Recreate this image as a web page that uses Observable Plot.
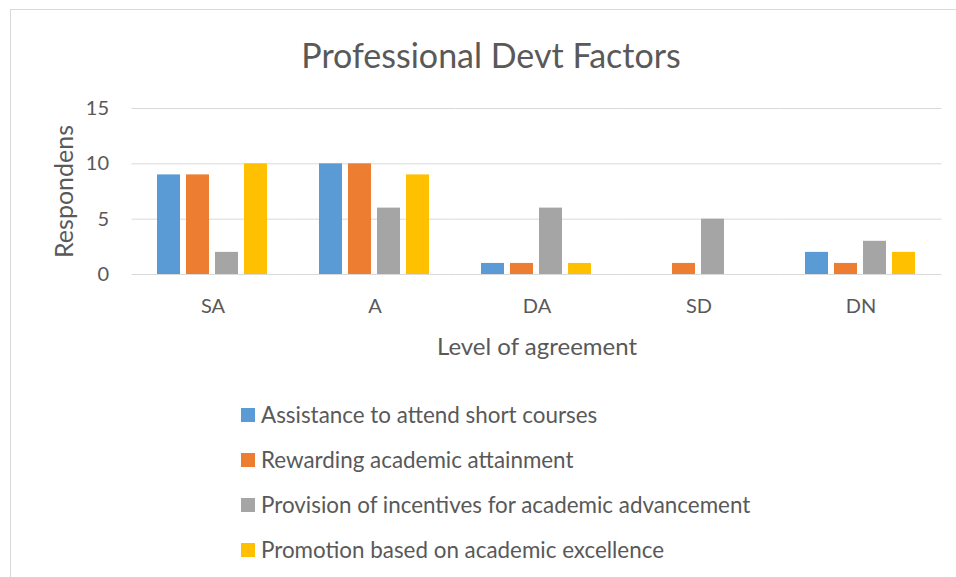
<!DOCTYPE html>
<html>
<head>
<meta charset="utf-8">
<script src="https://cdn.jsdelivr.net/npm/d3@7"></script>
<script src="https://cdn.jsdelivr.net/npm/@observablehq/plot@0.6"></script>
<style>
  html, body { margin: 0; padding: 0; background: #fff; overflow: hidden; }
  body { width: 956px; height: 577px; position: relative; font-family: Lato, "Open Sans", sans-serif; color: #595959; }
  #frame { position: absolute; left: 10px; top: 9px; width: 946px; height: 568px; border-left: 1px solid #d9d9d9; border-top: 1px solid #d9d9d9; box-sizing: border-box; }
  #title { position: absolute; left: 131px; width: 720px; top: 33px; text-align: center; font-size: 34px; line-height: 44px; }
  #chart { position: absolute; left: 11px; top: 80px; }
  #legend { position: absolute; left: 241px; top: 392px; }
  .item { height: 45px; display: flex; align-items: center; font-size: 22.4px; }
  .sw { width: 14px; height: 14px; margin-right: 6px; flex: none; }
  svg [aria-label="y-axis label"] { font-size: 25px; }
  svg [aria-label="fx-axis label"] { font-size: 24px; }
</style>
</head>
<body>
<div id="frame"></div>
<div id="title">Professional Devt Factors</div>
<div id="chart"></div>
<div id="legend"></div>
<script>
const categories = ["SA", "A", "DA", "SD", "DN"];
const seriesNames = [
  "Assistance to attend short courses",
  "Rewarding academic attainment",
  "Provision of incentives for academic advancement",
  "Promotion based on academic excellence"
];
const assistance = [9, 10, 1, 0, 2];
const rewarding = [9, 10, 1, 1, 1];
const provision = [2, 6, 6, 5, 3];
const promotion = [10, 9, 1, 0, 2];
const yTicks = [0, 5, 10, 15];
const colors = ["#5B9BD5", "#ED7D31", "#A5A5A5", "#FFC000"];

const seriesValues = [assistance, rewarding, provision, promotion];
const data = [];
categories.forEach((c, i) => {
  seriesNames.forEach((s, j) => {
    data.push({category: c, series: s, value: seriesValues[j][i]});
  });
});

const plot = Plot.plot({
  width: 945,
  height: 290,
  marginLeft: 120,
  marginRight: 15,
  marginTop: 28,
  marginBottom: 96,
  style: {fontFamily: "Lato, 'Open Sans', sans-serif", fontSize: "20px", color: "#595959", background: "transparent"},
  fx: {
    domain: categories, paddingInner: 0.315, paddingOuter: 0.1575,
    axis: "bottom", tickSize: 0, tickPadding: 24,
    label: "Level of agreement", labelAnchor: "center", labelOffset: 80, labelArrow: "none"
  },
  x: {domain: seriesNames, axis: null, paddingInner: 0.2, paddingOuter: 0},
  y: {
    domain: [0, 15], ticks: yTicks, tickSize: 0, tickPadding: 48.5,
    label: "Respondens", labelAnchor: "center", labelOffset: 102, labelArrow: "none"
  },
  color: {domain: seriesNames, range: colors},
  marks: [
    Plot.ruleY(yTicks, {stroke: "#d9d9d9", strokeWidth: 1, insetLeft: -25.5, insetRight: -25.5}),
    Plot.barY(data, {fx: "category", x: "series", y: "value", fill: "series"})
  ]
});
document.getElementById("chart").appendChild(plot);

const legend = document.getElementById("legend");
seriesNames.forEach((s, j) => {
  const item = document.createElement("div");
  item.className = "item";
  const sw = document.createElement("div");
  sw.className = "sw";
  sw.style.background = colors[j];
  const t = document.createElement("span");
  t.textContent = s;
  item.appendChild(sw);
  item.appendChild(t);
  legend.appendChild(item);
});
</script>
</body>
</html>
